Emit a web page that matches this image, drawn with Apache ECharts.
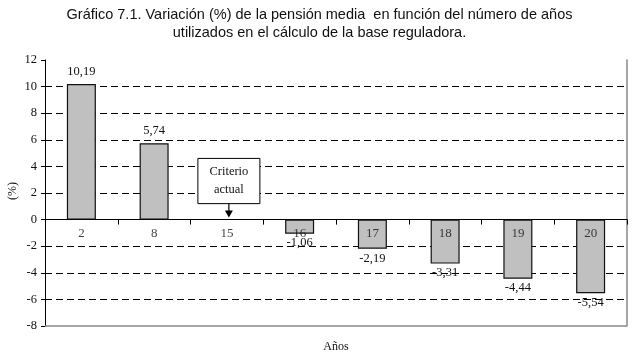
<!DOCTYPE html>
<html><head><meta charset="utf-8">
<script src="https://cdn.jsdelivr.net/npm/echarts@6/dist/echarts.min.js"></script>
<style>html,body{margin:0;padding:0;background:#fff}#c{width:639px;height:354px}</style>
</head><body><div id="c"></div>
<script>
const categories = ['2', '8', '15', '16', '17', '18', '19', '20'];
const values = [10.19, 5.74, null, -1.06, -2.19, -3.31, -4.44, -5.54];
const yTicks = {min: -8, max: 12, interval: 2};
const titleText = 'Gráfico 7.1. Variación (%) de la pensión media  en función del número de años\nutilizados en el cálculo de la base reguladora.';
const xAxisName = 'Años';
const yAxisName = '(%)';
const annotationText = 'Criterio\nactual';
const annotationCategory = '15';
const annotationTop = 4.6, annotationBottom = 1.2, arrowEnd = 0.15;

const serif = '"Liberation Serif", "Times New Roman", serif';
const splitColors = [];
for (let v = yTicks.min; v <= yTicks.max; v += yTicks.interval) {
  splitColors.push((v === yTicks.min || v === 0 || v === yTicks.max) ? 'rgba(0,0,0,0)' : '#000');
}
const chart = echarts.init(document.getElementById('c'));
const option = {
  animation: false,
  backgroundColor: '#fff',
  title: {
    text: titleText, left: 'center', top: 1,
    textStyle: {fontFamily: '"Liberation Sans", Arial, sans-serif', fontSize: 14.5, fontWeight: 'normal', color: '#111', lineHeight: 18}
  },
  grid: {left: 45, right: 12, top: 60, bottom: 28, containLabel: false, outerBoundsMode: 'none'},
  xAxis: [{
    type: 'category', data: categories,
    axisLine: {onZero: true, lineStyle: {color: '#000', width: 1}},
    axisTick: {show: true, length: 5, lineStyle: {color: '#000'}},
    axisLabel: {show: false},
    splitLine: {show: false}
  }],
  yAxis: [{
    type: 'value', min: yTicks.min, max: yTicks.max, interval: yTicks.interval,
    axisLine: {show: true, onZero: false, lineStyle: {color: '#000'}},
    axisTick: {show: true, length: 4, lineStyle: {color: '#000'}},
    axisLabel: {fontFamily: serif, fontSize: 12.5, color: '#111', margin: 8},
    splitLine: {show: true, lineStyle: {color: splitColors, type: [7, 4], width: 1}}
  }, {
    type: 'value', min: yTicks.min, max: yTicks.max, interval: yTicks.interval, position: 'right',
    axisLine: {show: true, onZero: false, lineStyle: {color: '#888', width: 1.5}},
    axisTick: {show: false}, axisLabel: {show: false}, splitLine: {show: false}
  }],
  series: [{
    type: 'bar', barWidth: 29, xAxisIndex: 0, yAxisIndex: 0,
    data: values.map(v => v == null ? null : {
      value: v, label: {position: v >= 0 ? 'top' : 'bottom', distance: v >= 0 ? 6 : 3}
    }),
    itemStyle: {color: '#c0c0c0', borderColor: '#111', borderWidth: 1.2},
    label: {
      show: true, fontFamily: serif, fontSize: 12.5, color: '#111',
      formatter: p => p.value == null ? '' : p.value.toFixed(2).replace('.', ',')
    },
    markLine: {
      silent: true, symbol: 'none', label: {show: false},
      lineStyle: {color: '#888', type: 'solid', width: 1.5},
      data: [{yAxis: yTicks.min}]
    }
  }, {
    type: 'scatter', xAxisIndex: 0, yAxisIndex: 0, symbolSize: 0, silent: true, z: 5,
    data: categories.map(c => [c, 0]),
    label: {
      show: true, position: 'bottom', distance: 7,
      fontFamily: serif, fontSize: 13, color: '#111',
      formatter: p => p.value[0]
    }
  }]
};
chart.setOption(option);

function drawAnnotation() {
  const pTop = chart.convertToPixel({xAxisIndex: 0, yAxisIndex: 0}, [annotationCategory, annotationTop]);
  const pBot = chart.convertToPixel({xAxisIndex: 0, yAxisIndex: 0}, [annotationCategory, annotationBottom]);
  const pEnd = chart.convertToPixel({xAxisIndex: 0, yAxisIndex: 0}, [annotationCategory, arrowEnd]);
  const pMin = chart.convertToPixel({xAxisIndex: 0, yAxisIndex: 0}, [categories[0], yTicks.min]);
  const w = 62, cx = pTop[0] + 2;
  const grid = chart.getModel().getComponent('grid').coordinateSystem.getRect();
  chart.setOption({graphic: [
    {type: 'rect', shape: {x: cx - w / 2, y: pTop[1], width: w, height: pBot[1] - pTop[1]},
     style: {fill: '#fff', stroke: '#000', lineWidth: 1}, z: 10},
    {type: 'text', x: cx, y: (pTop[1] + pBot[1]) / 2, z: 11,
     style: {text: annotationText, fontFamily: serif, fontSize: 12.5, fill: '#111', align: 'center', verticalAlign: 'middle', lineHeight: 18}},
    {type: 'line', shape: {x1: cx, y1: pBot[1], x2: cx, y2: pEnd[1] - 6}, style: {stroke: '#000', lineWidth: 1.2}, z: 10},
    {type: 'polygon', shape: {points: [[cx - 4, pEnd[1] - 7], [cx + 4, pEnd[1] - 7], [cx, pEnd[1]]]}, style: {fill: '#000'}, z: 10},
    {type: 'text', x: grid.x + grid.width / 2, y: pMin[1] + 21, z: 11,
     style: {text: xAxisName, fontFamily: serif, fontSize: 12, fill: '#111', align: 'center', verticalAlign: 'middle'}},
    {type: 'text', x: grid.x - 32, y: grid.y + grid.height / 2 - 2, rotation: Math.PI / 2, z: 11,
     style: {text: yAxisName, fontFamily: serif, fontSize: 12, fill: '#111', align: 'center', verticalAlign: 'middle'}}
  ]});
}
drawAnnotation();
</script></body></html>
